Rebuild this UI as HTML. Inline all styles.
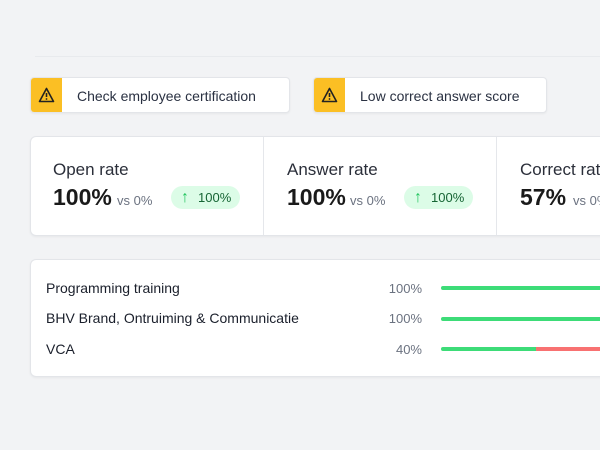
<!DOCTYPE html>
<html><head><style>
*{margin:0;padding:0;box-sizing:border-box}
body{width:600px;height:450px;background:#f2f3f5;font-family:"Liberation Sans",sans-serif;position:relative;overflow:hidden;color:#1f2430}
.a{position:absolute}
.alert{position:absolute;top:77px;height:36px;background:#fff;border:1px solid #e3e5e9;border-radius:4px;overflow:hidden;font-size:14px;color:#2a3142;box-shadow:0 1px 2px rgba(0,0,0,.05)}
.alert .y{position:absolute;left:0;top:0;width:31px;height:100%;background:#fbbf24}
.alert span{position:absolute;left:46px;top:10px;white-space:nowrap}
.card{position:absolute;background:#fff;border:1px solid #e3e5e9;border-radius:6px;box-shadow:0 1px 2px rgba(0,0,0,.05)}
.lbl{position:absolute;font-size:17px;color:#2b2f3a;white-space:nowrap}
.big{position:absolute;font-size:23px;font-weight:bold;color:#1a1a1a;white-space:nowrap}
.vs{position:absolute;font-size:13px;color:#6b7280;white-space:nowrap}
.pill{position:absolute;width:69px;height:23px;border-radius:12px;background:#dcfce7;color:#166534;font-size:13px;line-height:23px;padding-left:27px;white-space:nowrap}
.pill:before{content:"↑";position:absolute;left:10px;color:#22c55e;font-size:16px;font-weight:bold}
.row{position:absolute;left:46px;font-size:14px;color:#1a1f2b;white-space:nowrap}
.pct{position:absolute;width:60px;left:362px;text-align:right;font-size:13px;color:#6b7280}
.bar{position:absolute;left:441px;width:170px;height:4px;border-radius:2px;background:#3ddc78}
</style></head><body>
<div class="a" style="left:35px;top:56px;width:565px;height:1px;background:#e8eaed"></div>
<div class="alert" style="left:30px;width:260px"><div class="y"></div><svg class="a" style="left:7px;top:9px" width="17" height="16" viewBox="0 0 17 16"><path d="M8.5 1.5L15.5 14.5H1.5Z" fill="none" stroke="#222" stroke-width="1.6" stroke-linejoin="round"/><path d="M8.5 6v4" stroke="#222" stroke-width="1.6"/><circle cx="8.5" cy="12" r="0.9" fill="#222"/></svg><span>Check employee certification</span></div>
<div class="alert" style="left:313px;width:234px"><div class="y"></div><svg class="a" style="left:7px;top:9px" width="17" height="16" viewBox="0 0 17 16"><path d="M8.5 1.5L15.5 14.5H1.5Z" fill="none" stroke="#222" stroke-width="1.6" stroke-linejoin="round"/><path d="M8.5 6v4" stroke="#222" stroke-width="1.6"/><circle cx="8.5" cy="12" r="0.9" fill="#222"/></svg><span>Low correct answer score</span></div>
<div class="card" style="left:30px;top:136px;width:600px;height:100px"></div>
<div class="a" style="left:263px;top:137px;width:1px;height:98px;background:#e5e7eb"></div>
<div class="a" style="left:496px;top:137px;width:1px;height:98px;background:#e5e7eb"></div>
<div class="lbl" style="left:53px;top:160px">Open rate</div>
<div class="big" style="left:53px;top:184px">100%</div><div class="vs" style="left:117px;top:193px">vs 0%</div><div class="pill" style="left:171px;top:186px">100%</div>
<div class="lbl" style="left:287px;top:160px">Answer rate</div>
<div class="big" style="left:287px;top:184px">100%</div><div class="vs" style="left:350px;top:193px">vs 0%</div><div class="pill" style="left:404px;top:186px">100%</div>
<div class="lbl" style="left:520px;top:160px">Correct rate</div>
<div class="big" style="left:520px;top:184px">57%</div><div class="vs" style="left:573px;top:193px">vs 0%</div>
<div class="card" style="left:30px;top:259px;width:600px;height:118px"></div>
<div class="row" style="top:280px">Programming training</div><div class="pct" style="top:281px">100%</div><div class="bar" style="top:286px"></div>
<div class="row" style="top:310px">BHV Brand, Ontruiming &amp; Communicatie</div><div class="pct" style="top:311px">100%</div><div class="bar" style="top:317px"></div>
<div class="row" style="top:341px">VCA</div><div class="pct" style="top:342px">40%</div><div class="bar" style="top:347px;background:linear-gradient(90deg,#3ddc78 0 95px,#f87171 95px)"></div>
</body></html>
